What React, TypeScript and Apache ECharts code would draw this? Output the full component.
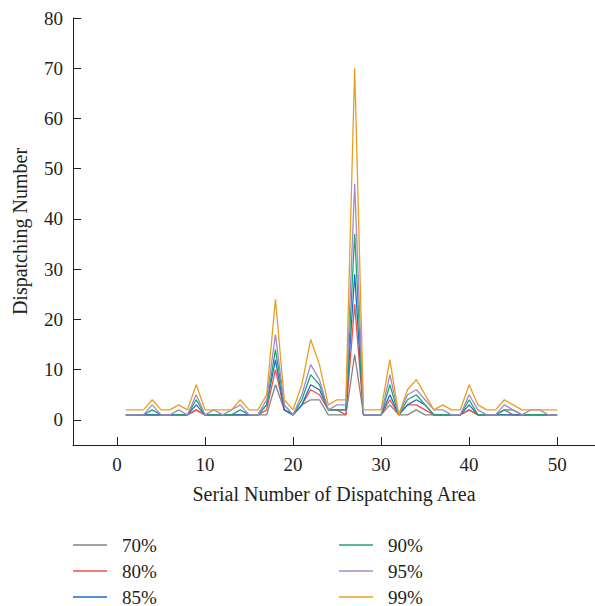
import React, { useEffect, useRef } from "react";
import * as echarts from "echarts";

const areaIds: number[] = Array.from({ length: 50 }, (_, i) => i + 1);

const s70: number[] = [1,1,1,1,1,1,1,1,2,1, 1,1,1,1,1,1,1,7,2,1, 3,4,4,1,1,1,13,1,1,1, 3,1,1,2,1,1,1,1,1,2, 1,1,1,1,1,1,1,1,1,1];
const s80: number[] = [1,1,1,1,1,1,1,1,2,1, 1,1,1,1,1,1,2,10,2,1, 3,6,5,2,2,1,23,1,1,1, 4,1,3,3,2,1,1,1,1,2, 1,1,1,2,1,1,1,1,1,1];
const s85: number[] = [1,1,1,1,1,1,1,1,3,1, 1,1,1,1,1,1,3,12,2,1, 3,7,6,2,2,2,29,1,1,1, 5,1,3,4,3,1,1,1,1,3, 1,1,1,1,1,1,1,1,1,1];
const s90: number[] = [1,1,1,2,1,1,1,1,4,1, 1,1,1,2,1,1,3,14,3,1, 4,9,7,2,2,2,37,1,1,1, 7,1,4,5,3,1,1,1,1,4, 1,1,1,2,2,1,1,1,1,1];
const s95: number[] = [1,1,1,3,1,1,2,1,5,1, 2,1,2,3,1,1,4,17,3,1, 5,11,8,2,3,3,47,1,1,1, 9,1,5,6,4,2,2,1,1,5, 2,1,1,3,2,1,2,2,1,1];
const s99: number[] = [2,2,2,4,2,2,3,2,7,2, 2,2,2,4,2,2,5,24,4,2, 7,16,11,3,4,4,70,2,2,2, 12,1,6,8,5,2,3,2,2,7, 3,2,2,4,3,2,2,2,2,2];

const seriesNames: string[] = ["70%", "80%", "85%", "90%", "95%", "99%"];
const seriesColors: string[] = ["#858585", "#f0504c", "#1a6fc6", "#1fa774", "#a888c8", "#e5a022"];
const xTicks: number[] = [0, 10, 20, 30, 40, 50];
const yTicks: number[] = [0, 10, 20, 30, 40, 50, 60, 70, 80];

const allSeries = [s70, s80, s85, s90, s95, s99];

const FONT = "'Liberation Serif', 'DejaVu Serif', serif";
const TEXT = "#231f20";

export default function App() {
  const ref = useRef<HTMLDivElement>(null);
  useEffect(() => {
    document.body.style.margin = "0";
    if (!ref.current) return;
    const chart = echarts.init(ref.current, null, { renderer: "svg" });
    const legendCols = [73, 73, 73, 339, 339, 339];
    const legendRows = [535, 561, 587, 535, 561, 587];
    const legends = seriesNames.map((name, i) => ({
      orient: "horizontal" as const,
      left: legendCols[i],
      top: legendRows[i],
      padding: 0,
      icon: "rect",
      itemWidth: 34,
      itemHeight: 1.5,
      textStyle: { fontFamily: FONT, fontSize: 19, lineHeight: 20, color: TEXT, padding: [0, 0, 0, 10] },
      data: [name],
    }));
    chart.setOption({
      animation: false,
      backgroundColor: "#ffffff",
      grid: { left: 73, top: 18, width: 522, height: 427 },
      legend: legends,
      xAxis: {
        type: "value",
        min: -5,
        max: 54.3,
        name: "Serial Number of Dispatching Area",
        nameLocation: "middle",
        nameGap: 39,
        nameTextStyle: { fontFamily: FONT, fontSize: 20, color: TEXT },
        axisLine: { show: true, onZero: false, lineStyle: { color: TEXT, width: 1 } },
        axisTick: { show: true, inside: true, length: 8, customValues: xTicks, lineStyle: { color: TEXT } },
        axisLabel: { customValues: xTicks, fontFamily: FONT, fontSize: 19, color: TEXT, margin: 10 },
        splitLine: { show: false },
      },
      yAxis: {
        type: "value",
        min: -5,
        max: 80,
        name: "Dispatching Number",
        nameLocation: "middle",
        nameGap: 43,
        nameTextStyle: { fontFamily: FONT, fontSize: 20, color: TEXT },
        axisLine: { show: true, onZero: false, lineStyle: { color: TEXT, width: 1 } },
        axisTick: { show: true, inside: true, length: 8, customValues: yTicks, lineStyle: { color: TEXT } },
        axisLabel: { customValues: yTicks, fontFamily: FONT, fontSize: 19, color: TEXT, margin: 10 },
        splitLine: { show: false },
      },
      series: allSeries.map((vals, i) => ({
        name: seriesNames[i],
        type: "line",
        symbol: "none",
        color: seriesColors[i],
        lineStyle: { color: seriesColors[i], width: 1.3 },
        data: areaIds.map((id, k) => [id, vals[k]]),
      })),
    });
    return () => chart.dispose();
  }, []);
  return <div ref={ref} style={{ width: 595, height: 606 }} />;
}
